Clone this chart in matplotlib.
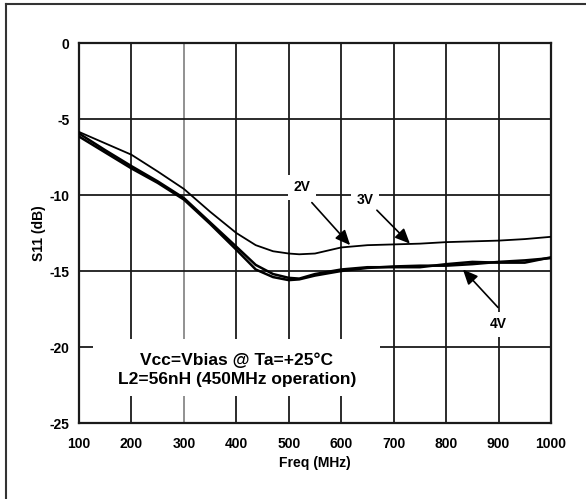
import matplotlib
matplotlib.use("Agg")
import matplotlib.pyplot as plt
from matplotlib.lines import Line2D
from matplotlib.patches import Rectangle

plt.rcParams["font.family"] = ["Liberation Sans", "DejaVu Sans"]
plt.rcParams["font.weight"] = "bold"
plt.rcParams["axes.unicode_minus"] = False

# datos
freq = [100, 150, 200, 250, 300, 350, 400, 437, 470, 500, 520, 550,
        600, 650, 700, 750, 800, 850, 900, 950, 1000]
s11_2v = [-5.85, -6.6, -7.35, -8.45, -9.6, -11.1, -12.5, -13.3, -13.7, -13.85, -13.9, -13.85,
          -13.45, -13.3, -13.25, -13.2, -13.1, -13.05, -13.0, -12.9, -12.75]
s11_3v = [-5.95, -7.05, -8.1, -9.1, -10.2, -11.8, -13.4, -14.6, -15.2, -15.45, -15.5, -15.2,
          -14.9, -14.75, -14.75, -14.75, -14.55, -14.4, -14.45, -14.45, -14.1]
s11_4v = [-6.15, -7.2, -8.25, -9.2, -10.3, -11.9, -13.6, -14.9, -15.4, -15.6, -15.55, -15.3,
          -15.0, -14.8, -14.7, -14.65, -14.65, -14.55, -14.4, -14.3, -14.15]

xticks = [100, 200, 300, 400, 500, 600, 700, 800, 900, 1000]
yticks = [0, -5, -10, -15, -20, -25]

fig = plt.figure(figsize=(5.86, 4.99), dpi=100)
ax = fig.add_axes([0.1348, 0.1523, 0.8055, 0.7615])

# marco exterior (solo arriba e izquierda)
fig.add_artist(Line2D([6 / 586, 6 / 586], [0, 1 - 4 / 499], transform=fig.transFigure,
                      color="#333333", lw=1.5))
fig.add_artist(Line2D([6 / 586, 1], [1 - 4 / 499, 1 - 4 / 499], transform=fig.transFigure,
                      color="#333333", lw=1.5))

# rejilla
for x in xticks[1:-1]:
    c = "#888888" if x == 300 else "#1a1a1a"
    ax.axvline(x, color=c, lw=1.3, zorder=1)
for y in yticks[1:-1]:
    ax.axhline(y, color="#1a1a1a", lw=1.3, zorder=1)

# curvas
ax.plot(freq, s11_2v, color="black", lw=1.3, zorder=4)
ax.plot(freq, s11_3v, color="black", lw=1.8, zorder=4)
ax.plot(freq, s11_4v, color="black", lw=1.8, zorder=4)

box = dict(facecolor="white", edgecolor="none", pad=4)
ax.text(525, -9.5, "2V", fontsize=10, ha="center", va="center", bbox=box, zorder=3)
ax.text(645, -10.3, "3V", fontsize=10, ha="center", va="center", bbox=box, zorder=3)
ax.text(899, -18.5, "4V", fontsize=10, ha="center", va="center", bbox=box, zorder=3)

arrow = dict(arrowstyle="-|>,head_length=0.9,head_width=0.4", color="black", lw=1.2,
             shrinkA=0, shrinkB=0)
ax.annotate("", xy=(617, -13.3), xytext=(544, -10.5), arrowprops=arrow, zorder=5)
ax.annotate("", xy=(731, -13.2), xytext=(668, -11.0), arrowprops=arrow, zorder=5)
ax.annotate("", xy=(832, -14.9), xytext=(899, -17.4), arrowprops=arrow, zorder=5)

# cuadro blanco del texto de condiciones
ax.add_patch(Rectangle((127, -23.2), 547, 3.73, facecolor="white", edgecolor="none", zorder=2))
ax.text(401, -21.5, "Vcc=Vbias @ Ta=+25\u00b0C\nL2=56nH (450MHz operation)",
        fontsize=12.5, ha="center", va="center", linespacing=1.4, zorder=3)

ax.set_xlim(100, 1000)
ax.set_ylim(-25, 0)
ax.set_xticks(xticks)
ax.set_yticks(yticks)
ax.tick_params(length=0, labelsize=10, pad=7)
ax.tick_params(axis="x", pad=10)
for s in ax.spines.values():
    s.set_linewidth(1.6)
    s.set_color("#1a1a1a")

ax.set_xlabel("Freq (MHz)", fontsize=10, fontweight="bold", labelpad=4)
ax.set_ylabel("S11 (dB)", fontsize=10, fontweight="bold", labelpad=2)

fig.savefig("out.png", dpi=100)
